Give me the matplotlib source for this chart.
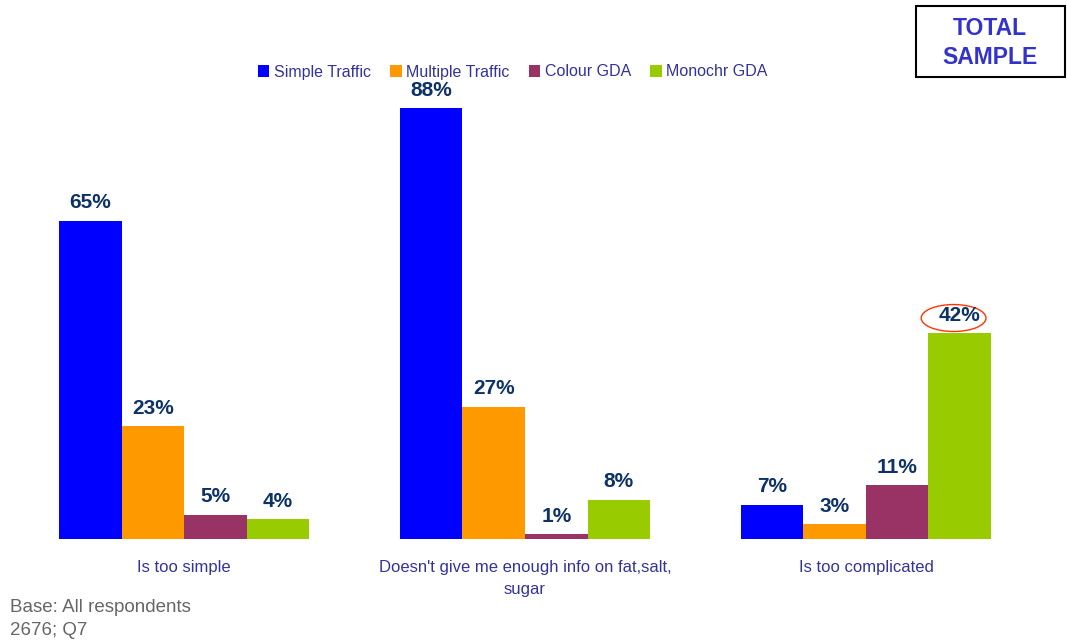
import numpy as np
import matplotlib.pyplot as plt
from matplotlib.patches import Ellipse

plt.rcParams['font.family'] = ['Liberation Sans', 'DejaVu Sans']

categories = ['Is too simple', "Doesn't give me enough info on fat,salt,\nsugar", 'Is too complicated']
series = ['Simple Traffic', 'Multiple Traffic', 'Colour GDA', 'Monochr GDA']
simple_traffic = [65, 88, 7]
multiple_traffic = [23, 27, 3]
colour_gda = [5, 1, 11]
monochr_gda = [4, 8, 42]
values = [simple_traffic, multiple_traffic, colour_gda, monochr_gda]
colors = ['#0000FF', '#FF9900', '#993366', '#99CC00']

label_col = '#0D3266'
text_col = '#333399'

fig = plt.figure(figsize=(10.67, 6.44), dpi=100)
ax = fig.add_axes([20/1067, 105/644, 1010/1067, 439/644])

x = np.arange(len(categories))
w = 0.1833
for i, (name, vals, c) in enumerate(zip(series, values, colors)):
    xs = x + (i - 1.5) * w
    bars = ax.bar(xs, vals, width=w, color=c, label=name, linewidth=0)
    for xi, v in zip(xs, vals):
        ax.annotate(f'{v}%', (xi, v), xytext=(0, 6), textcoords='offset points',
                    ha='center', va='bottom', fontsize=15, fontweight='bold', color=label_col)

# highlight the monochrome result on "too complicated"
hx = x[2] + 1.5 * w - 0.018
ax.add_patch(Ellipse((hx, 45.1), 0.19, 5.5, fill=False, edgecolor='#FF3300', linewidth=1, clip_on=False))

ax.set_xlim(-0.481, 2.481)
ax.set_ylim(0, 89.6)
ax.set_xticks(x)
ax.set_xticklabels(categories, fontsize=12, color=text_col, linespacing=1.6)
ax.tick_params(axis='x', length=0, pad=15)
ax.set_yticks([])
for s in ax.spines.values():
    s.set_visible(False)

leg = fig.legend(loc='center', bbox_to_anchor=(513/1067, 1 - 72/644), ncol=4, frameon=False,
                 fontsize=11.5, handlelength=0.7, handleheight=0.7, handletextpad=0.3,
                 columnspacing=1.2, borderaxespad=0)
for t in leg.get_texts():
    t.set_color(text_col)

fig.text(990/1067, 1 - 43/644, 'TOTAL\nSAMPLE', ha='center', va='center', fontsize=16.5,
         fontweight='bold', color='#3333CC', linespacing=1.35)
fig.patches.append(plt.Rectangle((916/1067, 1 - 77/644), 149/1067, 71/644, transform=fig.transFigure,
                                 fill=False, edgecolor='black', linewidth=1.5))

fig.text(10/1067, 1 - 599/644, 'Base: All respondents\n2676; Q7', ha='left', va='top',
         fontsize=13.5, color='#666666', linespacing=1.45)

fig.savefig('out.png', dpi=100)
